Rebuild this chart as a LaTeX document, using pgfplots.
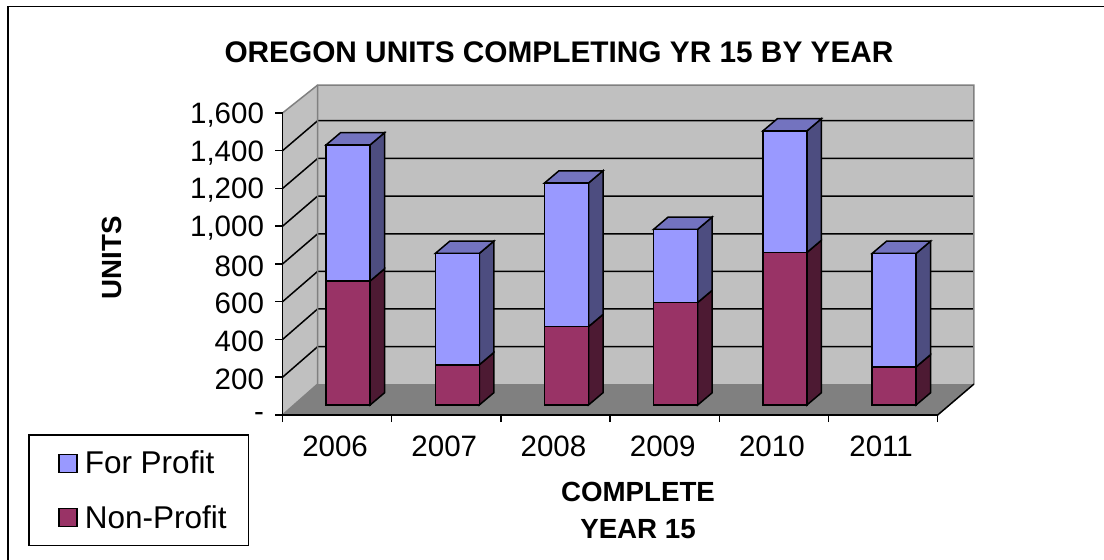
\documentclass[border=0pt]{standalone}
\usepackage{pgfplots}
\usepackage{pgfplotstable}
\usepackage{fontspec}
\setmainfont{Liberation Sans}
\pgfplotsset{compat=1.18}
\definecolor{fpfront}{HTML}{9999FF}
\definecolor{fptop}{HTML}{7373BF}
\definecolor{fpside}{HTML}{4D4D80}
\definecolor{npfront}{HTML}{993366}
\definecolor{npside}{HTML}{4D1A33}
\definecolor{wall}{HTML}{C0C0C0}
\definecolor{floorc}{HTML}{808080}
\pgfplotstableread{
year np fp
2006 657 721
2007 213 590
2008 415 761
2009 543 388
2010 808 644
2011 202 601
}\unitsdata
\pgfplotsset{
  base/.style={
    scale only axis, width=655.2pt, height=302pt,
    xmin=0, xmax=6, ymin=0, ymax=1600, clip=false,
  },
}
\begin{document}
\begin{tikzpicture}[x=1pt,y=1pt]
\path[use as bounding box,fill=white] (0,0) rectangle (1104,560);
\draw[line width=1.8pt] (8.3,0) -- (8.3,553.5) -- (1104,553.5);
\begin{axis}[base, at={(282.5pt,145pt)}, anchor=south west,
  axis on top,
  axis x line*=bottom, axis y line*=left,
  axis line style={-, line width=1.6pt, black},
  xtick={0.5,1.5,2.5,3.5,4.5,5.5},
  xticklabels={2006,2007,2008,2009,2010,2011},
  minor xtick={0,1,2,3,4,5,6},
  ytick={0,200,400,600,800,1000,1200,1400,1600},
  yticklabels={-,200,400,600,800,1{,}000,1{,}200,1{,}400,1{,}600},
  tick align=outside,
  major tick length=7pt, minor tick length=7pt,
  x tick style={draw=none},
  minor x tick style={draw=black, line width=1.5pt},
  y tick style={draw=black, line width=1.5pt},
  tick label style={font=\fontsize{29.5}{34}\selectfont},
  xticklabel style={yshift=-10pt, xshift=-2pt},
  yticklabel style={xshift=-8pt, yshift=-2pt},
  title={\textbf{OREGON UNITS COMPLETING YR 15 BY YEAR}},
  title style={at={(0.422,1.182)}, anchor=center, font=\fontsize{29.8}{34}\selectfont},
  xlabel={COMPLETE\\YEAR 15},
  xlabel style={at={(0.5426,-0.315)}, anchor=center, align=center, font=\bfseries\fontsize{27.7}{37}\selectfont},
  ylabel={UNITS},
  ylabel style={at={(-0.26,0.52)}, anchor=center, font=\bfseries\fontsize{27.7}{32}\selectfont},
]
% left wall
\addplot[draw=none, fill=wall, forget plot] coordinates {(0,0) (0.322,164) (0.322,1748) (0,1600)} -- cycle;
% back wall
\addplot[draw=none, fill=wall, forget plot] coordinates {(0.322,164) (6.332,164) (6.332,1748) (0.322,1748)} -- cycle;
% floor
\addplot[draw=none, fill=floorc, forget plot] coordinates {(0,0) (6,0) (6.332,164) (0.322,164)} -- cycle;
% gridlines
\addplot[black, line width=1.5pt, forget plot] coordinates {(0,200) (0.322,362) (6.332,362)};
\addplot[black, line width=1.5pt, forget plot] coordinates {(0,400) (0.322,562) (6.332,562)};
\addplot[black, line width=1.5pt, forget plot] coordinates {(0,600) (0.322,761) (6.332,761)};
\addplot[black, line width=1.5pt, forget plot] coordinates {(0,800) (0.322,960) (6.332,960)};
\addplot[black, line width=1.5pt, forget plot] coordinates {(0,1000) (0.322,1160) (6.332,1160)};
\addplot[black, line width=1.5pt, forget plot] coordinates {(0,1200) (0.322,1359) (6.332,1359)};
\addplot[black, line width=1.5pt, forget plot] coordinates {(0,1400) (0.322,1559) (6.332,1559)};
% grey wall edges
\addplot[floorc, line width=1.5pt, forget plot] coordinates {(0,0) (0.322,164) (0.322,1748) (6.332,1748) (6.332,164)};
\addplot[floorc, line width=1.5pt, forget plot] coordinates {(0.322,1748) (0,1600)};
% front right floor edge
\addplot[black, line width=1.5pt, forget plot] coordinates {(6,0) (6.332,164)};
\end{axis}
\begin{axis}[base, at={(293.5pt,155pt)}, anchor=south west,
  hide axis,
]
\pgfplotsinvokeforeach{0,1,2,3,4,5}{
  \pgfplotstablegetelem{#1}{np}\of\unitsdata \let\vnp\pgfplotsretval
  \pgfplotstablegetelem{#1}{fp}\of\unitsdata \let\vfp\pgfplotsretval
  \pgfmathsetmacro\xl{#1+0.5-0.2015}
  \pgfmathsetmacro\xr{#1+0.5+0.2015}
  \pgfmathsetmacro\xlb{\xl+0.1328}
  \pgfmathsetmacro\xrb{\xr+0.1328}
  \pgfmathsetmacro\vtot{\vnp+\vfp}
  \pgfmathsetmacro\ynpb{\vnp+65}
  \pgfmathsetmacro\ytotb{\vtot+65}
  \edef\doit{
    \noexpand\addplot[draw=black, line width=1.5pt, fill=npside, forget plot] coordinates {(\xr,0) (\xrb,65) (\xrb,\ynpb) (\xr,\vnp)} -- cycle;
    \noexpand\addplot[draw=black, line width=1.5pt, fill=fpside, forget plot] coordinates {(\xr,\vnp) (\xrb,\ynpb) (\xrb,\ytotb) (\xr,\vtot)} -- cycle;
    \noexpand\addplot[draw=black, line width=1.5pt, fill=fptop, forget plot] coordinates {(\xl,\vtot) (\xr,\vtot) (\xrb,\ytotb) (\xlb,\ytotb)} -- cycle;
  }
  \doit
}
\end{axis}
\begin{axis}[base, at={(293.5pt,155pt)}, anchor=south west,
  hide axis, ybar stacked, bar width=44pt,
  reverse legend,
  legend image code/.code={\path[draw=none,fill=none] (0pt,0pt) -- (34pt,0pt);\draw[#1, line width=1.5pt] (10pt,-9pt) rectangle (28pt,9pt);},
  legend style={
    at={(-0.4052,-0.4685)}, anchor=south west,
    draw=black, line width=1.5pt, font=\fontsize{31.5}{36}\selectfont,
    inner xsep=20pt, inner ysep=14pt, row sep=26pt,
    legend cell align=left,
  },
]
\addplot[draw=black, line width=1.5pt, fill=npfront] table[x expr=\coordindex+0.5, y=np] {\unitsdata};
\addlegendentry{Non-Profit}
\addplot[draw=black, line width=1.5pt, fill=fpfront] table[x expr=\coordindex+0.5, y=fp] {\unitsdata};
\addlegendentry{For Profit}
\end{axis}
\end{tikzpicture}
\end{document}
